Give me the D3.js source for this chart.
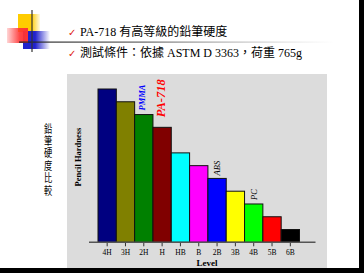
<!DOCTYPE html>
<html>
<head>
<meta charset="utf-8">
<script src="https://cdn.jsdelivr.net/npm/d3@7"></script>
<style>
  body { margin: 0; background: #fff; }
  svg { display: block; }
</style>
</head>
<body>
<div id="chart"></div>
<script>
// pencil hardness levels and their score
const levels = ["4H", "3H", "2H", "H", "HB", "B", "2B", "3B", "4B", "5B", "6B"];
const scores = [12, 11, 10, 9, 7, 6, 5, 4, 3, 2, 1];
const barColors = ["#000080", "#808000", "#008000", "#800000", "#00ffff", "#ff00ff",
                   "#0000ff", "#ffff00", "#00ff00", "#ff0000", "#000000"];

// material labels placed above the bars
const materials = ["PMMA", "PA-718", "ABS", "PC"];
const materialLevels = ["2H", "H", "2B", "4B"];

const bulletLines = ["PA-718 有高等級的鉛筆硬度", "測試條件：依據 ASTM D 3363，荷重 765g"];
const sideTitle = "鉛筆硬度比較";

let svgWidth = 364, svgHeight = 273;

let svg = d3.select("#chart").append("svg")
  .attr("width", svgWidth)
  .attr("height", svgHeight);

let defs = svg.append("defs");
function grad(id, stops) {
  let g = defs.append("linearGradient").attr("id", id)
    .attr("x1", 0).attr("x2", 1).attr("y1", 0).attr("y2", 0);
  stops.forEach(s => g.append("stop").attr("offset", s[0]).attr("stop-color", s[1]).attr("stop-opacity", s[2]));
}
grad("gYellow", [[0, "#ffcc00", 1], [0.6, "#ffcc00", 1], [1, "#ffcc00", 0.1]]);
grad("gRed", [[0, "#ff3333", 0.2], [0.6, "#ff3333", 0.9], [1, "#ff3333", 1]]);
grad("gBlue", [[0, "#2222cc", 1], [0.45, "#2222cc", 1], [1, "#2222cc", 0]]);
grad("gLine", [[0, "#222", 1], [0.4, "#555", 0.9], [1, "#999", 0]]);

//slide frame (black edges at right and bottom)
svg.append("rect").attr("x", 0).attr("y", 0).attr("width", svgWidth).attr("height", svgHeight).attr("fill", "#000");
svg.append("rect").attr("x", 0).attr("y", 0).attr("width", 359).attr("height", 268).attr("fill", "#fff");

//logo
svg.append("rect").attr("x", 18).attr("y", 14).attr("width", 22).attr("height", 18).attr("fill", "url(#gYellow)");
svg.append("rect").attr("x", 23).attr("y", 31).attr("width", 27).attr("height", 18).attr("fill", "url(#gBlue)");
svg.append("rect").attr("x", 7).attr("y", 28).attr("width", 21).attr("height", 15).attr("fill", "url(#gRed)");
svg.append("rect").attr("x", 19).attr("y", 41.5).attr("width", 315).attr("height", 1.2).attr("fill", "url(#gLine)");
svg.append("line").attr("x1", 32).attr("x2", 32).attr("y1", 10).attr("y2", 52)
  .attr("stroke", "#333").attr("stroke-width", 1.2);

//bullets
const textFont = "'Liberation Serif', 'Noto Sans CJK TC', serif";
bulletLines.forEach((t, i) => {
  let y = 36 + i * 21;
  svg.append("text").attr("x", 68).attr("y", y)
    .attr("font-size", 10).attr("fill", "#e02010").text("✓");
  svg.append("text").attr("x", 80).attr("y", y)
    .attr("font-family", textFont).attr("font-size", 12).attr("fill", "#000").text(t);
});

//side title, written vertically
svg.append("text")
  .attr("transform", "translate(48, 123) scale(0.75, 1)")
  .attr("writing-mode", "vertical-rl")
  .style("text-orientation", "upright")
  .attr("letter-spacing", 1.4)
  .attr("font-family", "'Noto Sans CJK TC', sans-serif")
  .attr("font-size", 11).text(sideTitle);

//chart panel
svg.append("rect").attr("x", 67).attr("y", 74).attr("width", 260).attr("height", 194).attr("fill", "#dcdcdc");

let xScale = d3.scaleBand().domain(levels).range([98, 299.5]).padding(0);
let yScale = d3.scaleLinear().domain([0, 12]).range([242.3, 89]);

//bars
svg.append("g").selectAll("rect")
  .data(levels)
  .join("rect")
  .attr("x", d => xScale(d))
  .attr("y", (d, i) => yScale(scores[i]))
  .attr("width", xScale.bandwidth())
  .attr("height", (d, i) => yScale(0) - yScale(scores[i]))
  .attr("fill", (d, i) => barColors[i])
  .attr("stroke", "#111")
  .attr("stroke-width", 1);

//x axis
let xAxis = d3.axisBottom(xScale).tickSizeOuter(0).tickSizeInner(4).tickPadding(3);
let axisG = svg.append("g")
  .attr("transform", `translate(0, ${yScale(0)})`)
  .call(xAxis);
axisG.select(".domain").remove();
axisG.selectAll(".tick line").attr("stroke", "#333");
axisG.selectAll(".tick text")
  .attr("font-family", "'Liberation Serif', serif")
  .attr("font-size", 7.5).attr("fill", "#000");
svg.append("line")
  .attr("x1", xScale.range()[0] - 9).attr("x2", xScale.range()[1] + 16)
  .attr("y1", yScale(0)).attr("y2", yScale(0))
  .attr("stroke", "#555").attr("stroke-width", 1.5);

//axis titles
svg.append("text").attr("x", 207).attr("y", 266)
  .attr("text-anchor", "middle").attr("font-family", "'Liberation Serif', serif")
  .attr("font-weight", "bold").attr("font-size", 9).text("Level");
svg.append("text")
  .attr("transform", "translate(81, 157) rotate(-90)")
  .attr("text-anchor", "middle").attr("font-family", "'Liberation Serif', serif")
  .attr("font-weight", "bold").attr("font-size", 8.5).text("Pencil Hardness");

//material labels
const labelStyle = {
  "PMMA": { color: "#0000ff", size: 8.5, gap: 4, dx: 1, bold: true },
  "PA-718": { color: "#ff0000", size: 12.5, gap: 10, dx: 3, bold: true },
  "ABS": { color: "#000", size: 8.5, gap: 3, dx: 3, bold: false },
  "PC": { color: "#000", size: 8.5, gap: 4, dx: 3, bold: false }
};
materials.forEach((m, i) => {
  let lv = materialLevels[i];
  let s = labelStyle[m];
  let cx = xScale(lv) + xScale.bandwidth() / 2 + s.dx;
  let top = yScale(scores[levels.indexOf(lv)]) - s.gap;
  svg.append("text")
    .attr("transform", `translate(${cx}, ${top}) rotate(-90)`)
    .attr("font-family", "'Liberation Serif', serif")
    .attr("font-style", "italic").attr("font-weight", s.bold ? "bold" : "normal")
    .attr("font-size", s.size).attr("fill", s.color).text(m);
});
</script>
</body>
</html>
